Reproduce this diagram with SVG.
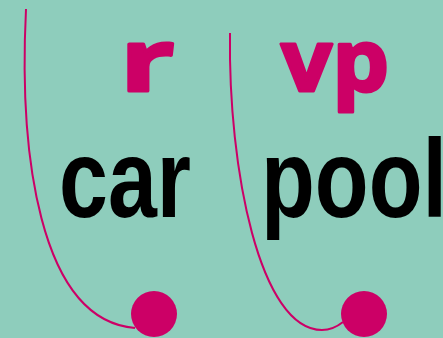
<svg xmlns="http://www.w3.org/2000/svg" width="443" height="338" viewBox="0 0 443 338">
<style>
.m{font-family:"Open Sans","Liberation Sans",sans-serif;font-weight:bold;font-size:86px;fill:#cc0066;stroke:#cc0066;stroke-width:3;stroke-linejoin:round}
.w{font-family:"Liberation Sans",Arial,sans-serif;font-weight:bold;font-size:111px;fill:#000}
.c{fill:none;stroke:#cc0066;stroke-width:2}
.d{fill:#cc0066}
</style>
<rect width="443" height="338" fill="#8ecdbc"/>
<g id="connectors">
<path class="c" d="M26,9 C19,150 38,320 135,328"/>
<path class="c" d="M230,33 C228,170 260,330 322,330 Q333,330 343,322"/>
</g>
<g id="node-r"><text class="m" transform="translate(120,91) scale(1.4,1)">r</text><circle class="d" cx="154" cy="314" r="23"/></g>
<g id="node-vp"><text class="m" x="281" y="91" textLength="108" lengthAdjust="spacingAndGlyphs">vp</text><circle class="d" cx="364" cy="314" r="23"/></g>
<g id="node-car"><text class="w" x="59" y="217" textLength="132" lengthAdjust="spacingAndGlyphs">car</text></g>
<g id="node-pool"><text class="w" x="261" y="217" textLength="186" lengthAdjust="spacingAndGlyphs">pool</text></g>
</svg>
